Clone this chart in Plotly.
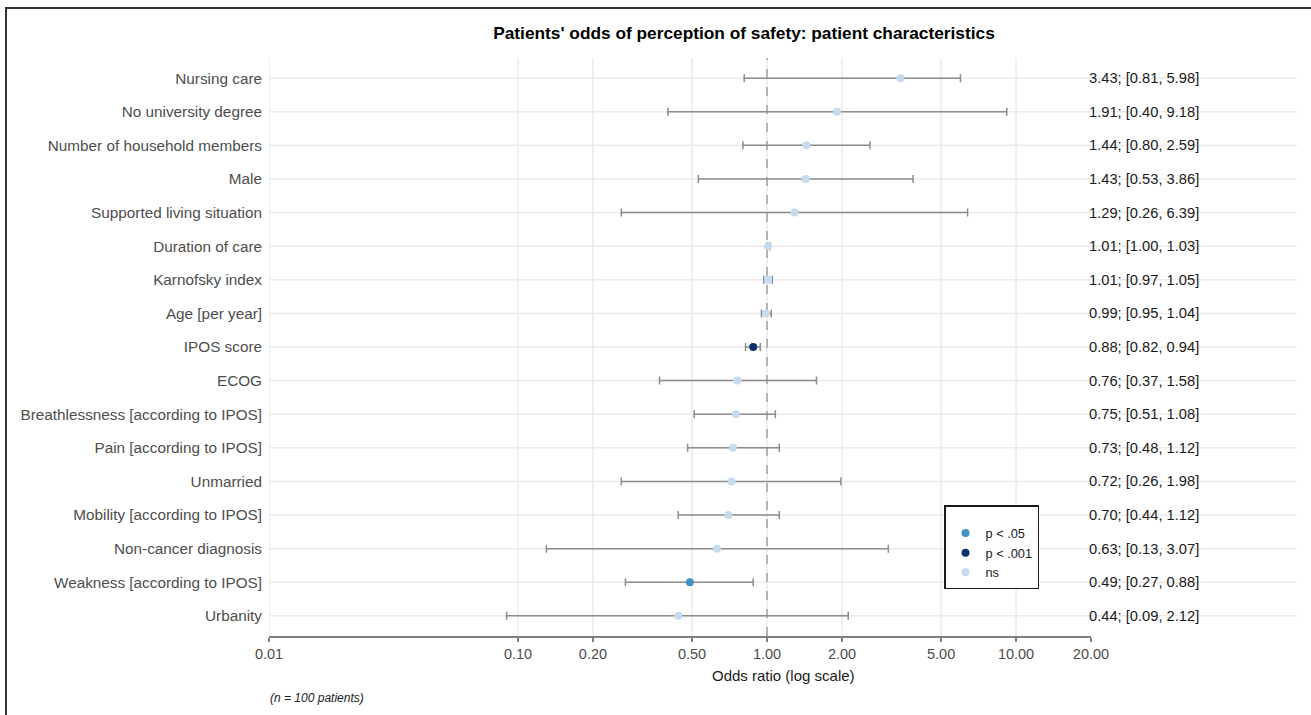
import plotly.graph_objects as go
import math

# ---------------- data ----------------
labels = [
    "Nursing care", "No university degree", "Number of household members", "Male",
    "Supported living situation", "Duration of care", "Karnofsky index", "Age [per year]",
    "IPOS score", "ECOG", "Breathlessness [according to IPOS]", "Pain [according to IPOS]",
    "Unmarried", "Mobility [according to IPOS]", "Non-cancer diagnosis",
    "Weakness [according to IPOS]", "Urbanity",
]
odds = [3.43, 1.91, 1.44, 1.43, 1.29, 1.01, 1.01, 0.99, 0.88, 0.76, 0.75, 0.73, 0.72, 0.70, 0.63, 0.49, 0.44]
ci_low = [0.81, 0.40, 0.80, 0.53, 0.26, 1.00, 0.97, 0.95, 0.82, 0.37, 0.51, 0.48, 0.26, 0.44, 0.13, 0.27, 0.09]
ci_high = [5.98, 9.18, 2.59, 3.86, 6.39, 1.03, 1.05, 1.04, 0.94, 1.58, 1.08, 1.12, 1.98, 1.12, 3.07, 0.88, 2.12]
signif = ["ns", "ns", "ns", "ns", "ns", "ns", "ns", "ns", "p < .001", "ns", "ns", "ns", "ns", "ns", "ns", "p < .05", "ns"]

groups = ["p < .05", "p < .001", "ns"]
group_colors = {"p < .05": "#4292c6", "p < .001": "#08306b", "ns": "#c6dbef"}

tick_vals = [0.01, 0.10, 0.20, 0.50, 1.00, 2.00, 5.00, 10.00, 20.00]
tick_text = ["0.01", "0.10", "0.20", "0.50", "1.00", "2.00", "5.00", "10.00", "20.00"]
grid_vals = [0.01, 0.10, 0.20, 0.50, 1.00, 2.00, 5.00, 10.00]

# ---------------- layout geometry (pixels) ----------------
W, H = 1311, 715
L, R_edge, T, B_edge = 269, 1297, 58, 636
AX_END = 1091
pw, ph = R_edge - L, B_edge - T
xdom_end = (AX_END - L) / pw

def px(xpix):
    return (xpix - L) / pw

def py(ypix):
    return (B_edge - ypix) / ph

FONT = "Liberation Sans, Arial, sans-serif"

fig = go.Figure()

for g in groups:
    idx = [i for i, s in enumerate(signif) if s == g]
    fig.add_trace(go.Scatter(
        x=[odds[i] for i in idx],
        y=[labels[i] for i in idx],
        mode="markers",
        name=g,
        marker=dict(color=group_colors[g], size=8),
        error_x=dict(
            type="data", symmetric=False,
            array=[ci_high[i] - odds[i] for i in idx],
            arrayminus=[odds[i] - ci_low[i] for i in idx],
            color="#8c8c8c", thickness=1.5, width=4,
        ),
        cliponaxis=False,
    ))

shapes = []
# horizontal grid lines across both panels
for lab in labels:
    shapes.append(dict(type="line", xref="paper", yref="y", x0=0, x1=1, y0=lab, y1=lab,
                       line=dict(color="#ebebeb", width=1.5), layer="below"))
# vertical grid lines
for v in grid_vals:
    shapes.append(dict(type="line", xref="x", yref="paper", x0=v, x1=v, y0=0, y1=1,
                       line=dict(color="#ebebeb", width=1.5), layer="below"))
# reference line at OR = 1
shapes.append(dict(type="line", xref="x", yref="paper", x0=1, x1=1, y0=0, y1=1,
                   line=dict(color="#a0a0a0", width=1.5, dash="dash"), layer="below"))
# outer frame
shapes.append(dict(type="rect", xref="paper", yref="paper",
                   x0=px(6), x1=px(1316), y0=py(720), y1=py(8),
                   line=dict(color="#333333", width=2), fillcolor="rgba(0,0,0,0)"))

annotations = []
for lab, o, lo, hi in zip(labels, odds, ci_low, ci_high):
    annotations.append(dict(
        xref="paper", yref="y", x=px(AX_END - 4), y=lab, xanchor="left", yanchor="middle",
        text=f"{o:.2f}; [{lo:.2f}, {hi:.2f}]", showarrow=False,
        font=dict(family=FONT, size=14.7, color="#1a1a1a"),
    ))
annotations.append(dict(xref="paper", yref="paper", x=0.5, y=py(675), xanchor="center", yanchor="middle",
                        text="Odds ratio (log scale)", showarrow=False,
                        font=dict(family=FONT, size=15, color="#1a1a1a")))
annotations.append(dict(xref="paper", yref="paper", x=px(268), y=py(698), xanchor="left", yanchor="middle",
                        text="<i>(n = 100 patients)</i>", showarrow=False,
                        font=dict(family=FONT, size=12, color="#1a1a1a")))

fig.update_layout(
    template="none",
    width=W, height=H, autosize=False,
    margin=dict(l=L, r=W - R_edge, t=T, b=H - B_edge, pad=0, autoexpand=False),
    paper_bgcolor="white", plot_bgcolor="white",
    font=dict(family=FONT, size=14, color="#4d4d4d"),
    title=dict(text="<b>Patients' odds of perception of safety: patient characteristics</b>",
               x=px(744), xref="paper", xanchor="center", y=1 - 33 / H, yanchor="middle",
               font=dict(family=FONT, size=17.3, color="#000000")),
    xaxis=dict(type="log", domain=[0, xdom_end], range=[math.log10(0.01), math.log10(20)],
               automargin=False,
               tickvals=tick_vals, ticktext=tick_text, showgrid=False, zeroline=False,
               showline=True, linecolor="#7f7f7f", linewidth=1.5,
               ticks="outside", ticklen=4, tickcolor="#7f7f7f", tickwidth=1.5,
               tickfont=dict(family=FONT, size=14.5, color="#4d4d4d")),
    yaxis=dict(type="category", categoryorder="array", categoryarray=labels,
               automargin=False,
               range=[len(labels) - 0.4, -0.6], showgrid=False, zeroline=False,
               ticks="", ticklabelstandoff=6,
               tickfont=dict(family=FONT, size=15.3, color="#4d4d4d")),
    legend=dict(x=px(944), y=py(505), xanchor="left", yanchor="top",
                bordercolor="#1a1a1a", borderwidth=1.5, bgcolor="white",
                font=dict(family=FONT, size=12.8, color="#1a1a1a"),
                title=dict(text=" ", font=dict(size=9)),
                itemwidth=30, tracegroupgap=0),
    shapes=shapes, annotations=annotations,
)

fig.write_html(
    "out.html",
    config={"responsive": False, "displayModeBar": False},
    post_script="document.body.style.margin='0';document.body.style.overflow='hidden';"
                "document.documentElement.style.overflow='hidden';",
)
